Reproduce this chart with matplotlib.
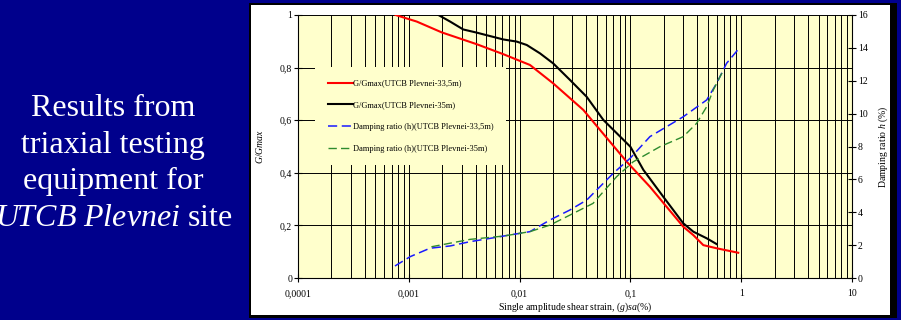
import numpy as np
import matplotlib
matplotlib.use('Agg')
import matplotlib.pyplot as plt
from matplotlib.patches import Rectangle
from matplotlib.ticker import FixedLocator, LogLocator, NullFormatter

# Fonts: Times-like look from the slide
plt.rcParams['font.family'] = ['Liberation Serif', 'DejaVu Serif']
plt.rcParams['mathtext.fontset'] = 'custom'
plt.rcParams['mathtext.rm'] = 'Liberation Serif'
plt.rcParams['mathtext.it'] = 'Liberation Serif:italic'

# G/Gmax curves (left axis)
strain_g1 = [0.00076, 0.00118, 0.00198, 0.0041, 0.00713, 0.0124, 0.0201, 0.0376,
             0.0532, 0.0927, 0.150, 0.212, 0.30, 0.37, 0.455, 0.60, 0.94]
ggmax_g1 = [1.0, 0.975, 0.934, 0.889, 0.851, 0.810, 0.740, 0.639,
            0.563, 0.442, 0.347, 0.271, 0.195, 0.163, 0.125, 0.113, 0.096]

strain_g2 = [0.00185, 0.00236, 0.0031, 0.0041, 0.0054, 0.00713, 0.0094, 0.0116,
             0.0153, 0.0201, 0.0285, 0.0403, 0.057, 0.1, 0.131, 0.198, 0.30,
             0.37, 0.488, 0.60]
ggmax_g2 = [1.0, 0.975, 0.945, 0.933, 0.920, 0.907, 0.899, 0.886,
            0.854, 0.816, 0.753, 0.689, 0.601, 0.499, 0.411, 0.309, 0.208,
            0.176, 0.151, 0.129]

# Damping ratio curves (right axis, %)
strain_d1 = [0.00075, 0.00103, 0.00155, 0.00236, 0.00357, 0.0054, 0.0082, 0.0124,
             0.0188, 0.0285, 0.0403, 0.070, 0.1, 0.150, 0.30, 0.488, 0.60, 0.738, 0.94]
damp_d1 = [0.73, 1.30, 1.81, 1.95, 2.21, 2.41, 2.62, 2.82,
           3.53, 4.14, 4.74, 6.37, 7.30, 8.60, 9.81, 10.83, 11.84, 13.06, 13.91]

strain_d2 = [0.0016, 0.00357, 0.00713, 0.0124, 0.0188, 0.0285, 0.046, 0.075,
             0.106, 0.185, 0.30, 0.396, 0.488, 0.56, 0.644, 0.70]
damp_d2 = [1.90, 2.35, 2.55, 2.82, 3.22, 3.83, 4.54, 6.16,
           7.07, 7.99, 8.60, 9.41, 10.42, 11.44, 12.25, 12.70]

labels = ['G/Gmax(UTCB Plevnei-33,5m)', 'G/Gmax(UTCB Plevnei-35m)',
          'Damping ratio (h)(UTCB Plevnei-33,5m)', 'Damping ratio (h)(UTCB Plevnei-35m)']

x_ticks = [0.0001, 0.001, 0.01, 0.1, 1, 10]
x_ticklabels = ['0,0001', '0,001', '0,01', '0,1', '1', '10']
y_ticks = [0, 0.2, 0.4, 0.6, 0.8, 1]
y_ticklabels = ['0', '0,2', '0,4', '0,6', '0,8', '1']
d_ticks = [0, 2, 4, 6, 8, 10, 12, 14, 16]

W, H = 901, 320
fig = plt.figure(figsize=(W / 100, H / 100), dpi=100)
fig.patch.set_facecolor('#00008c')

# white slide panel with a black frame (kept behind the axes)
fig.patches.append(Rectangle((249 / W, 1 - 318 / H), (897 - 249) / W, (318 - 3) / H,
                             transform=fig.transFigure, facecolor='black',
                             edgecolor='none', zorder=-2))
fig.patches.append(Rectangle((251 / W, 1 - 315 / H), (890 - 251) / W, (315 - 5) / H,
                             transform=fig.transFigure, facecolor='white',
                             edgecolor='none', zorder=-1))

# slide text on the left
txt = dict(color='white', fontsize=23, ha='center', va='baseline')
fig.text(113 / W, 1 - 116 / H, 'Results from', **txt)
fig.text(113 / W, 1 - 152.7 / H, 'triaxial testing', **txt)
fig.text(113 / W, 1 - 189 / H, 'equipment for', **txt)
fig.text(114 / W, 1 - 226 / H, r'$\it{UTCB\ Plevnei}$ site', **txt)

ax = fig.add_axes([298 / W, 1 - 278 / H, 554 / W, 263 / H])
ax.set_facecolor('#ffffcc')
ax.set_xscale('log')
ax.set_xlim(0.0001, 10)
ax.set_ylim(0, 1)

l1, = ax.plot(strain_g1, ggmax_g1, color='#ff0000', lw=1.5, zorder=3)
l2, = ax.plot(strain_g2, ggmax_g2, color='black', lw=1.5, zorder=3)

ax2 = ax.twinx()
ax2.set_ylim(0, 16)
l3, = ax2.plot(strain_d1, damp_d1, color='#1a1aff', lw=1.1, ls=(0, (6, 3)))
l4, = ax2.plot(strain_d2, damp_d2, color='#2e8b2e', lw=1.0, ls=(0, (6, 3)))

# ticks and grid
ax.xaxis.set_major_locator(FixedLocator(x_ticks))
ax.set_xticklabels(x_ticklabels)
ax.xaxis.set_minor_locator(LogLocator(base=10, subs=np.arange(2, 10)))
ax.xaxis.set_minor_formatter(NullFormatter())
ax.set_yticks(y_ticks)
ax.set_yticklabels(y_ticklabels)
ax2.set_yticks(d_ticks)

ax.grid(True, which='major', axis='y', color='black', lw=0.7)
ax.grid(True, which='both', axis='x', color='black', lw=0.7)
ax.set_axisbelow(True)

ax.tick_params(axis='both', which='major', direction='inout', length=6, width=0.8,
               labelsize=7, pad=1.3)
ax.tick_params(axis='x', which='major', pad=5)
ax.tick_params(axis='x', which='minor', length=0)
ax2.tick_params(axis='y', direction='inout', length=6, width=0.8, labelsize=7, pad=1.3)

for s in ['top', 'right']:
    ax.spines[s].set_visible(False)
for s in ['top', 'left', 'bottom']:
    ax2.spines[s].set_visible(False)
for a in (ax, ax2):
    for s in a.spines.values():
        s.set_linewidth(0.8)

ax.set_xlabel(r'Single amplitude shear strain, $\it{(g)sa}$(%)', fontsize=7, labelpad=2)
ax.set_ylabel(r'$\it{G/Gmax}$', fontsize=7)
ax.yaxis.set_label_coords(-33 / 554, 0.5)
ax2.set_ylabel(r'Damping ratio $\it{h}$ (%)', fontsize=7)
ax2.yaxis.set_label_coords(1 + 25 / 554, 0.5)

leg = ax2.legend([l1, l2, l3, l4], labels, loc='upper left',
                 bbox_to_anchor=(17 / 554, (278 - 67) / 263), borderaxespad=0,
                 fontsize=6, handlelength=3.0, handletextpad=0.1, labelspacing=1.65,
                 borderpad=1.5, frameon=True, fancybox=False)
leg.get_frame().set_facecolor('#ffffcc')
leg.get_frame().set_edgecolor('none')
leg.get_frame().set_alpha(1)

fig.savefig('out.png', dpi=100, facecolor=fig.get_facecolor())
